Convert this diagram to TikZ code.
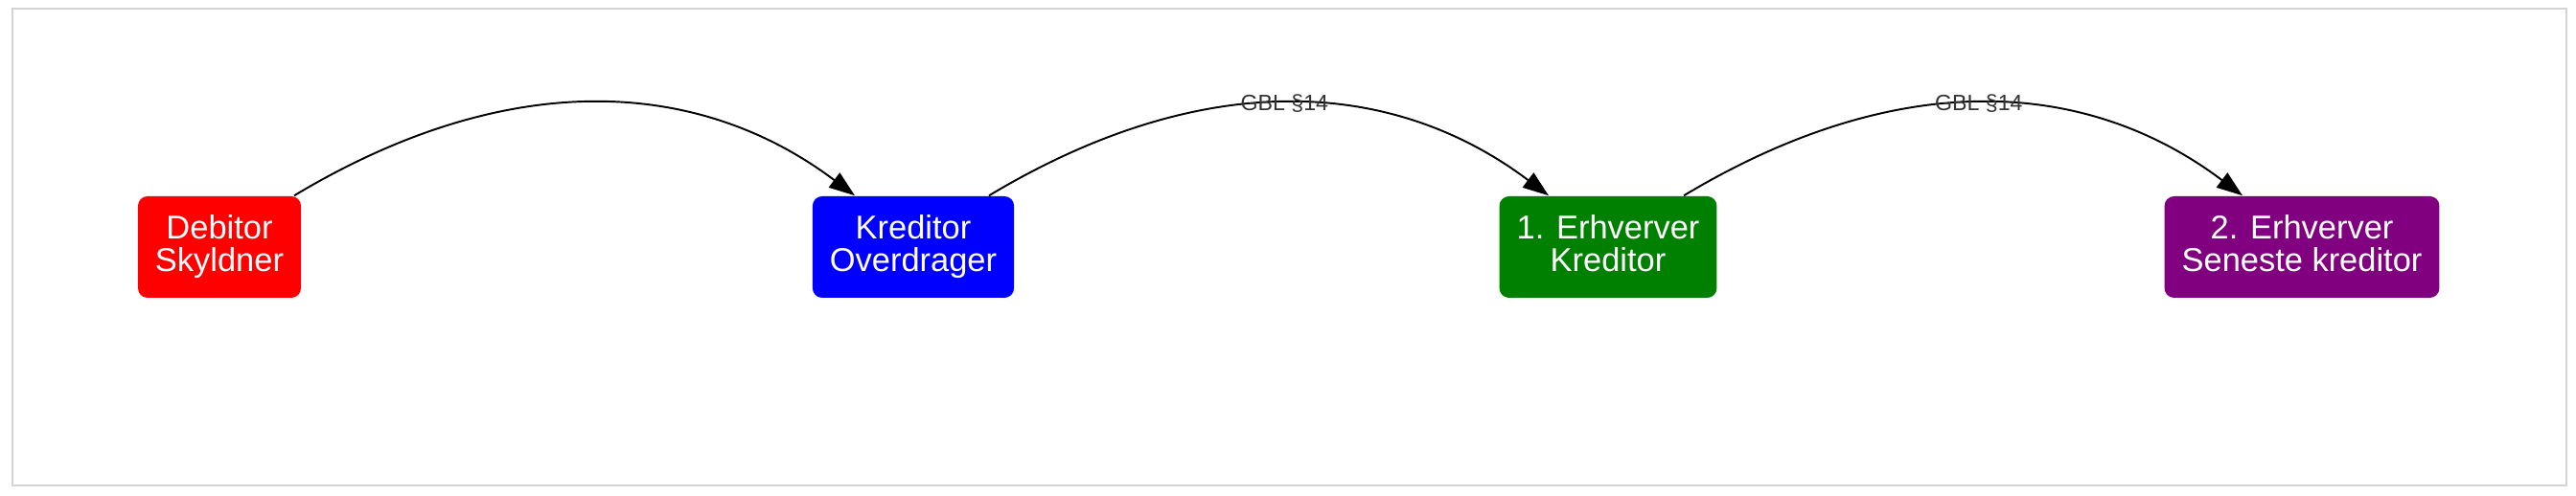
\documentclass[tikz,border=0pt]{standalone}
\usepackage{fontspec}
\setmainfont{Liberation Sans}
\usepackage{tikz}
\usetikzlibrary{arrows.meta,positioning}
\definecolor{framegray}{RGB}{211,211,211}
\definecolor{lawgray}{RGB}{51,51,51}
\definecolor{erhvgreen}{RGB}{0,128,0}
\definecolor{erhvpurple}{RGB}{128,0,128}

\begin{document}
\begin{tikzpicture}[
	party/.style={rounded corners=0.1cm,text=white,align=center,minimum height=1.06cm,inner xsep=0.18cm,font=\fontsize{9.8}{9.7}\selectfont,execute at end node={\vphantom{y}}},
	flow/.style={line width=0.55pt,-{Triangle[length=0.27cm,width=0.19cm]},out=31,in=143,out distance=2.6cm,in distance=2.05cm},
	law/.style={text=lawgray,inner sep=0pt,font=\fontsize{6.6}{6.6}\selectfont}]
	\useasboundingbox (0,0) rectangle (26.88,5.18);
	\draw[framegray,line width=0.45pt] (0.13,0.11) rectangle (26.78,5.09);
	\node[party,fill=red] at (2.29,2.60) (debitor) {Debitor\\Skyldner};
	\node[party,fill=blue] at (9.53,2.60) (kreditor) {Kreditor\\Overdrager};
	\node[party,fill=erhvgreen] at (16.78,2.60) (erhv1) {1. Erhverver\\Kreditor};
	\node[party,fill=erhvpurple] at (24.02,2.60) (erhv2) {2. Erhverver\\Seneste kreditor};
	\draw[flow] ([xshift=0.78cm]debitor.north) to ([xshift=-0.61cm]kreditor.north);
	\draw[flow] ([xshift=0.79cm]kreditor.north) to node[law,pos=0.49] {GBL §14} ([xshift=-0.62cm]erhv1.north);
	\draw[flow] ([xshift=0.79cm]erhv1.north) to node[law,pos=0.49] {GBL §14} ([xshift=-0.62cm]erhv2.north);
\end{tikzpicture}
\end{document}
